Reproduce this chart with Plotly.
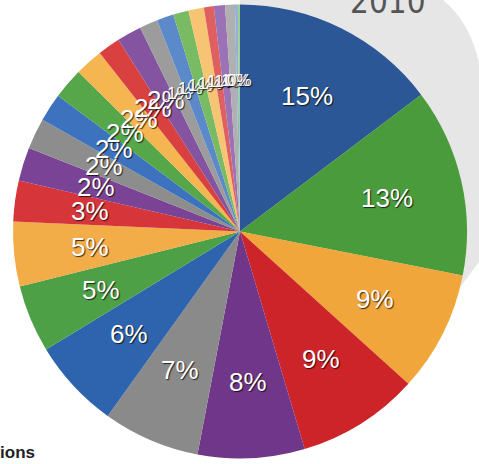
import math
import plotly.graph_objects as go

# Share of total by region, clockwise from 12 o'clock (percent)
shares = [14.7, 13.4, 8.6, 8.7, 7.6, 6.9, 6.4, 4.8, 4.6, 2.9,
          2.4, 2.2, 2.0, 2.2, 2.0, 1.6, 1.75, 1.3, 1.2, 1.1,
          1.1, 0.7, 0.8, 0.7, 0.2, 0.15]
regions = [f"Region {i + 1}" for i in range(len(shares))]

slice_colors = [
    "#2b5797", "#4a9b3b", "#f0a63a", "#cd2429", "#703689", "#8a8a8a",
    "#2e63ad", "#4ea046", "#f2ad48", "#d6363a", "#7a4395", "#8d8d8d",
    "#3d72be", "#56a64a", "#f5b652", "#d94040", "#8454a0", "#9c9c9c",
    "#5b89c9", "#79bb62", "#f7c474", "#e06060", "#9a72b5", "#b0b0b0",
    "#8fb0d8", "#9fd08a",
]

W, H = 479, 464
CX, CY, R = 240.0, 231.5, 227.0

fig = go.Figure(go.Pie(
    labels=regions,
    values=shares,
    sort=False,
    direction="clockwise",
    rotation=0,
    marker=dict(colors=slice_colors, line=dict(width=0)),
    textinfo="none",
    hoverinfo="label+percent",
    showlegend=False,
    domain=dict(x=[(CX - R) / W, (CX + R) / W],
                y=[1 - (CY + R) / H, 1 - (CY - R) / H]),
))

# Percentage labels placed at each slice's mid-angle
total = sum(shares)
annotations = []
cum = 0.0
for v in shares:
    mid = (cum + v / 2) / total * 2 * math.pi
    cum += v
    r_lab = 151.0
    px = CX + r_lab * math.sin(mid)
    py = CY - r_lab * math.cos(mid)
    size = 26 if v / total * 100 >= 1.5 else 17
    annotations.append(dict(
        x=px / W, y=1 - py / H, xref="paper", yref="paper",
        text=f"{round(v / total * 100)}%", showarrow=False,
        xanchor="center", yanchor="middle",
        font=dict(family="Liberation Sans, Arial, sans-serif", size=size,
                  color="white",
                  shadow="1px 1px 1px rgba(0,0,0,0.75)"),
    ))

annotations.append(dict(
    x=428 / W, y=1 - 1 / H, xref="paper", yref="paper",
    text="2010", showarrow=False, xanchor="right", yanchor="middle",
    font=dict(family="DejaVu Sans Condensed, Liberation Sans Narrow, sans-serif",
              size=33, color="#555555"),
))
annotations.append(dict(
    x=37 / W, y=1 - 452 / H, xref="paper", yref="paper",
    text="<b>Regions</b>", showarrow=False, xanchor="right", yanchor="middle",
    font=dict(family="Liberation Sans, Arial, sans-serif", size=17,
              color="#222222"),
))

# Light grey backdrop disc behind the upper-right of the pie
backdrop = (
    f"M {240 / W},{1.02} L {443 / W},{1.0} "
    f"Q {470 / W},{1 - 22 / H} {1.0},{1 - 63 / H} "
    f"L {1.01},{1 - 63 / H} L {1.01},{1 - 262 / H} L {1.0},{1 - 262 / H} "
    f"L {458 / W},{1 - 290 / H} L {CX / W},{1 - CY / H} Z"
)

fig.update_layout(
    width=W, height=H,
    margin=dict(l=0, r=0, t=0, b=0),
    paper_bgcolor="white",
    plot_bgcolor="white",
    annotations=annotations,
    shapes=[dict(type="path", path=backdrop, xref="paper", yref="paper",
                 fillcolor="#e6e6e6", line=dict(width=0), layer="below")],
)

fig.write_html("out.html")
